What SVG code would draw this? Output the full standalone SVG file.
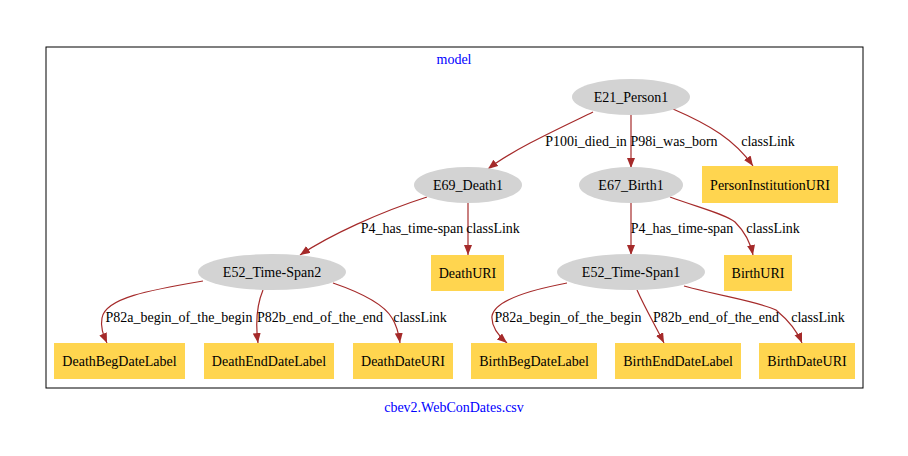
<svg xmlns="http://www.w3.org/2000/svg" width="908" height="456" viewBox="0 0 908 456">
<style>
text{font-family:"Liberation Serif","Times New Roman",serif;font-size:14px;text-anchor:middle;fill:#000}
.t{fill:#0000ff}
.e{fill:#d3d3d3}
.r{fill:#ffd54f}
.c path{fill:none;stroke:#a52a2a;stroke-width:1.2}
</style>
<defs>
<marker id="a" markerUnits="userSpaceOnUse" markerWidth="12" markerHeight="10" refX="10" refY="4" orient="auto">
<path d="M0,0 L10,4 L0,8 z" fill="#a52a2a"/>
</marker>
</defs>
<rect x="0" y="0" width="908" height="456" fill="#fff"/>
<g id="cluster">
<rect x="46" y="47" width="817" height="341" fill="none" stroke="#000" stroke-width="1"/>
<text class="t" x="454" y="64">model</text>
</g>
<text class="t" x="454" y="412">cbev2.WebConDates.csv</text>
<g class="c" id="connectors">
<path d="M593,112 C560,128 512,150 488,169" marker-end="url(#a)"/>
<path d="M631,115 L631,168" marker-end="url(#a)"/>
<path d="M673,109 C710,125 735,140 753,166" marker-end="url(#a)"/>
<path d="M427,197 C380,212 330,235 300,255" marker-end="url(#a)"/>
<path d="M468,202 L468,255" marker-end="url(#a)"/>
<path d="M631,202 L631,255" marker-end="url(#a)"/>
<path d="M670,197 C700,208 725,214 735,222 C745,232 751,245 753,255" marker-end="url(#a)"/>
<path d="M203,281 C150,290 105,298 102,318 C100,328 104,336 107,343" marker-end="url(#a)"/>
<path d="M263,290 C258,302 255,320 258,343" marker-end="url(#a)"/>
<path d="M333,283 C365,294 385,306 392,318 C397,326 399,335 400,343" marker-end="url(#a)"/>
<path d="M567,283 C530,290 495,300 492,316 C491,328 500,337 507,343" marker-end="url(#a)"/>
<path d="M637,290 C645,308 655,325 664,343" marker-end="url(#a)"/>
<path d="M684,286 C720,296 760,302 776,310 C788,320 798,333 802,343" marker-end="url(#a)"/>
<text x="586" y="146">P100i_died_in</text>
<text x="674" y="146">P98i_was_born</text>
<text x="768" y="146">classLink</text>
<text x="412" y="233">P4_has_time-span</text>
<text x="493" y="233">classLink</text>
<text x="682" y="233">P4_has_time-span</text>
<text x="773" y="233">classLink</text>
<text x="179" y="322">P82a_begin_of_the_begin</text>
<text x="320" y="322">P82b_end_of_the_end</text>
<text x="420" y="322">classLink</text>
<text x="568" y="322">P82a_begin_of_the_begin</text>
<text x="716" y="322">P82b_end_of_the_end</text>
<text x="818" y="322">classLink</text>
</g>
<g id="E21_Person1"><ellipse class="e" cx="631" cy="97" rx="59" ry="18"/><text x="631" y="102">E21_Person1</text></g>
<g id="E69_Death1"><ellipse class="e" cx="468" cy="185" rx="54" ry="18"/><text x="468" y="190">E69_Death1</text></g>
<g id="E67_Birth1"><ellipse class="e" cx="631" cy="185" rx="52" ry="18"/><text x="631" y="190">E67_Birth1</text></g>
<g id="PersonInstitutionURI"><rect class="r" x="702" y="166" width="136" height="37"/><text x="770" y="190">PersonInstitutionURI</text></g>
<g id="E52_Time-Span2"><ellipse class="e" cx="272" cy="272" rx="74" ry="18"/><text x="272" y="277">E52_Time-Span2</text></g>
<g id="DeathURI"><rect class="r" x="431" y="255" width="73" height="36"/><text x="467.5" y="278">DeathURI</text></g>
<g id="E52_Time-Span1"><ellipse class="e" cx="631" cy="272" rx="74" ry="18"/><text x="631" y="277">E52_Time-Span1</text></g>
<g id="BirthURI"><rect class="r" x="724" y="255" width="68" height="36"/><text x="758" y="278">BirthURI</text></g>
<g id="DeathBegDateLabel"><rect class="r" x="54" y="343" width="131" height="36"/><text x="119.5" y="366">DeathBegDateLabel</text></g>
<g id="DeathEndDateLabel"><rect class="r" x="204" y="343" width="130" height="36"/><text x="269" y="366">DeathEndDateLabel</text></g>
<g id="DeathDateURI"><rect class="r" x="353" y="343" width="100" height="36"/><text x="403" y="366">DeathDateURI</text></g>
<g id="BirthBegDateLabel"><rect class="r" x="471" y="343" width="126" height="36"/><text x="534" y="366">BirthBegDateLabel</text></g>
<g id="BirthEndDateLabel"><rect class="r" x="615" y="343" width="126" height="36"/><text x="678" y="366">BirthEndDateLabel</text></g>
<g id="BirthDateURI"><rect class="r" x="759" y="343" width="96" height="36"/><text x="807" y="366">BirthDateURI</text></g>
</svg>
